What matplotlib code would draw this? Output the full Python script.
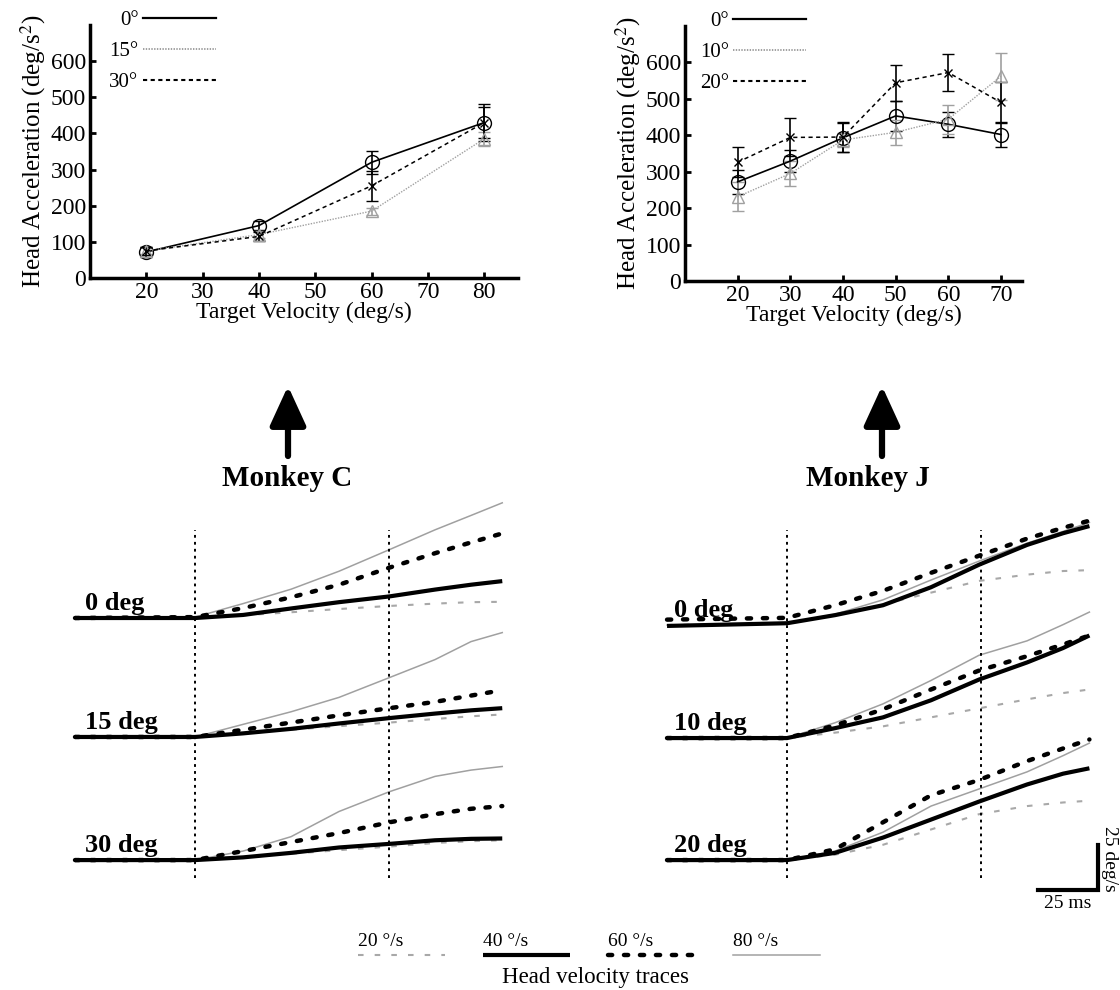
import matplotlib
matplotlib.use('Agg')
import matplotlib.pyplot as plt
from matplotlib.lines import Line2D

plt.rcParams['font.family'] = ['Liberation Serif', 'DejaVu Serif']
plt.rcParams['mathtext.fontset'] = 'stix'
plt.rcParams['lines.scale_dashes'] = False

# ---- top charts: head acceleration vs target velocity ----
vel_c = [20, 40, 60, 80]
acc_c_0 = [72, 145, 320, 430]
err_c_0 = [15, 12, 32, 50]
acc_c_15 = [75, 120, 185, 385]
err_c_15 = [12, 10, 10, 20]
acc_c_30 = [75, 115, 255, 430]
err_c_30 = [12, 12, 42, 42]
labels_c = ['0°', '15°', '30°']

vel_j = [20, 30, 40, 50, 60, 70]
acc_j_0 = [272, 329, 393, 453, 430, 402]
err_j_0 = [32, 30, 40, 42, 35, 35]
acc_j_10 = [231, 295, 387, 408, 444, 562]
err_j_10 = [40, 35, 20, 35, 40, 65]
acc_j_20 = [326, 394, 395, 544, 572, 490]
err_j_20 = [42, 52, 40, 50, 50, 57]
labels_j = ['0°', '10°', '20°']

# ---- bottom: head velocity traces (deg/s), time in ms from first cursor ----
t_c = [-50, 0, 20, 40, 60, 81, 100, 115, 128]
c0_20 = [0, 0, 1.5, 3.2, 5, 6.7, 8, 8.8, 9]
c0_40 = [0, 0, 1.7, 5.3, 8.8, 12, 15.8, 18.5, 20.5]
c0_60 = [0, 0.5, 5.5, 11.5, 18.5, 28, 36, 42, 47]
c0_80 = [0, 0.5, 8, 16, 26, 38, 49, 57, 64]
c15_20 = [0, 0, 2, 4, 6, 8, 10, 11.5, 12.5]
c15_40 = [0, 0, 2, 4.5, 7.5, 10.5, 13, 14.8, 16]
c15_60 = [0, 0, 4, 8, 12, 16, 19.5, 23, 26]
c15_80 = [0, 0, 7, 14, 22, 33, 43, 53, 58]
c30_20 = [0, 0, 1.5, 3.5, 5.5, 7.5, 9.5, 10.5, 11]
c30_40 = [0, 0, 1.5, 4, 7, 9, 11, 11.8, 12]
c30_60 = [0, 0, 5, 10, 15, 21, 25.5, 28.5, 30]
c30_80 = [0, 0, 5, 13, 27, 38, 46.5, 50, 52]

t_j = [-50, 0, 20, 40, 60, 80, 100, 115, 126]
j0_20 = [0, 1, 5.5, 11.5, 18, 24.5, 28, 30, 30.5]
j0_40 = [-0.5, 1, 5.5, 11, 21, 33.5, 44.5, 51, 55]
j0_60 = [3, 4, 11, 19, 29, 38.5, 48, 54, 58]
j0_80 = [0, 1, 6, 14, 25, 35.5, 45.5, 52, 57]
j10_20 = [0, 0, 3, 6.5, 11.5, 16.5, 21.5, 25, 27]
j10_40 = [0, 0, 5.5, 11.5, 21, 32.5, 42, 50, 57]
j10_60 = [0, 0, 7, 16, 27, 37.5, 45.5, 52, 57]
j10_80 = [0, 0, 8.5, 19, 32, 46, 54, 63, 70]
j20_20 = [0, 0, 3, 8.5, 17, 25.5, 30, 32, 33]
j20_40 = [0, 0, 4, 12.5, 22.5, 32.5, 42, 48, 51]
j20_60 = [0, 0, 6, 21, 36, 44.5, 55, 62, 67]
j20_80 = [0, 0, 5, 15.5, 30, 39.5, 49, 58, 65]

speed_labels = ['20 °/s', '40 °/s', '60 °/s', '80 °/s']
cond_c = ['0 deg', '15 deg', '30 deg']
cond_j = ['0 deg', '10 deg', '20 deg']

# styles
GRAY = '#a0a0a0'
trace_style = [
    dict(color='#a8a8a8', lw=1.5, dashes=(4, 8)),
    dict(color='black', lw=3.0, solid_capstyle='butt'),
    dict(color='black', lw=3.2, dashes=(3, 8.5), dash_capstyle='round'),
    dict(color=GRAY, lw=1.1),
]
acc_style = [
    dict(color='black', ls='-', lw=1.2, marker='o', ms=10, mfc='none', mec='black'),
    dict(color='#a0a0a0', ls=(0, (1, 1)), lw=1.0, marker='^', ms=9, mfc='none', mec='#a0a0a0'),
    dict(color='black', ls=(0, (3, 2.5)), lw=1.1, marker='x', ms=6, mec='black'),
]


def acc_plot(ax, x, ys, errs, labels, xlim, xticks):
    for y, e, st in zip(ys, errs, acc_style):
        ax.errorbar(x, y, yerr=e, capsize=4, elinewidth=1.2, ecolor=st['color'], **st)
    ax.set_xlim(*xlim)
    ax.set_ylim(0, 700)
    ax.set_xticks(xticks)
    ax.set_yticks(range(0, 700, 100))
    for s in ['top', 'right']:
        ax.spines[s].set_visible(False)
    for s in ['left', 'bottom']:
        ax.spines[s].set_linewidth(2.5)
    ax.tick_params(direction='in', length=4, width=2, labelsize=17, pad=3)
    ax.set_xlabel('Target Velocity (deg/s)', fontsize=17, labelpad=-1)
    ax.set_ylabel('Head Acceleration (deg/s$^2$)', fontsize=18, labelpad=2)
    handles = [Line2D([], [], color=st['color'], ls=st['ls'], lw=st['lw'] + 0.4) for st in acc_style]
    ax.legend(handles, labels, markerfirst=False, frameon=False, loc='upper left',
              bbox_to_anchor=(0.045, 1.057), fontsize=15, handlelength=3.5,
              handletextpad=0.2, labelspacing=0.55, borderpad=0, borderaxespad=0)


fig = plt.figure(figsize=(11.2, 9.9), dpi=100)

ax1 = fig.add_axes([0.0804, 0.7192, 0.3821, 0.2556])
acc_plot(ax1, vel_c, [acc_c_0, acc_c_15, acc_c_30], [err_c_0, err_c_15, err_c_30],
         labels_c, (10, 86), vel_c[:1] + [30, 40, 50, 60, 70, 80])

ax2 = fig.add_axes([0.6116, 0.7162, 0.3009, 0.2576])
acc_plot(ax2, vel_j, [acc_j_0, acc_j_10, acc_j_20], [err_j_0, err_j_10, err_j_20],
         labels_j, (10, 74), vel_j)

# trace panels: 2.4 px per ms, 1.8 px per deg/s
baselines_c = [167.8, 101.7, 33.3]
baselines_j = [163.9, 101.1, 33.3]
ax3 = fig.add_axes([0.0536, 0.0707, 0.4107, 0.4343])
ax3.set_xlim(-56.25, 135.4)
ax4 = fig.add_axes([0.5804, 0.0707, 0.4196, 0.4343])
ax4.set_xlim(-57.08, 138.75)

groups_c = [[c0_20, c0_40, c0_60, c0_80], [c15_20, c15_40, c15_60, c15_80],
            [c30_20, c30_40, c30_60, c30_80]]
groups_j = [[j0_20, j0_40, j0_60, j0_80], [j10_20, j10_40, j10_60, j10_80],
            [j20_20, j20_40, j20_60, j20_80]]

for ax, t, groups, base, conds, lx in [(ax3, t_c, groups_c, baselines_c, cond_c, -45.8),
                                       (ax4, t_j, groups_j, baselines_j, cond_j, -47)]:
    ax.set_ylim(0, 238.9)
    ax.axis('off')
    for g, b, name in zip(groups, base, conds):
        for order in [3, 0, 2, 1]:
            ax.plot(t, [v + b for v in g[order]], **trace_style[order])
        ax.text(lx, b + 4.5, name, fontsize=19, fontweight='bold', ha='left', va='baseline')
    for tc in [0, 81]:
        ax.plot([tc, tc], [23.3, 216.7], color='black', lw=1.4, dashes=(2, 3))

# scale bar
ax4.plot([104.6, 129.6, 129.6], [16.7, 16.7, 41.7], color='black', lw=3, solid_joinstyle='miter')
ax4.text(117, 9, '25 ms', fontsize=14, ha='center', va='center')
ax4.text(134.5, 34, '25 deg/s', fontsize=14, ha='center', va='center', rotation=270)

# monkey labels & arrows
for xc, xa, name in [(287, 288, 'Monkey C'), (868, 882, 'Monkey J')]:
    fig.text(xc / 1120, 1 - 478 / 990, name, fontsize=21, fontweight='bold', ha='center', va='center')
    ax1.annotate('', xy=(xa, 990 - 386), xytext=(xa, 990 - 456), xycoords='figure pixels',
                 textcoords='figure pixels',
                 arrowprops=dict(arrowstyle='-|>,head_length=2.4,head_width=1.1', lw=4.5,
                                 color='black', mutation_scale=10, shrinkA=0, shrinkB=0))

# bottom legend for traces
axl = fig.add_axes([330 / 1120, 0, 500 / 1120, 70 / 990])
axl.set_xlim(330, 830)
axl.set_ylim(990, 920)
axl.axis('off')
for i, (lab, st) in enumerate(zip(speed_labels, trace_style)):
    x0 = 358 + i * 125
    axl.text(x0, 946, lab, fontsize=14, ha='left', va='baseline')
    axl.plot([x0, x0 + 87], [955, 955], **st)
axl.text(595, 978, 'Head velocity traces', fontsize=16.5, ha='center', va='center')

fig.savefig('out.png', dpi=100)
